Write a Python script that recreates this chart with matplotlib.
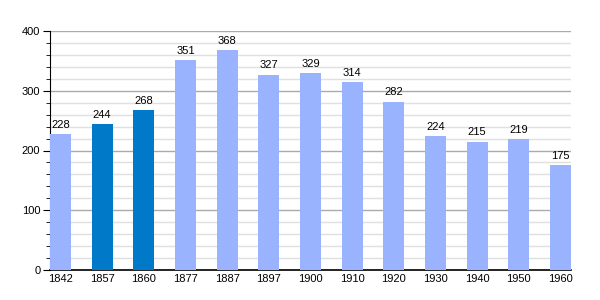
import matplotlib
matplotlib.use("Agg")
import matplotlib.pyplot as plt
from matplotlib.ticker import MultipleLocator

years = ["1842", "1857", "1860", "1877", "1887", "1897", "1900", "1910", "1920", "1930", "1940", "1950", "1960"]
population = [228, 244, 268, 351, 368, 327, 329, 314, 282, 224, 215, 219, 175]
highlight = [False, True, True, False, False, False, False, False, False, False, False, False, False]

light = "#99b3ff"
dark = "#0079c9"

plt.rcParams['font.family'] = ['Liberation Sans', 'DejaVu Sans']

fig = plt.figure(figsize=(6, 3), dpi=100)
ax = fig.add_axes([50/600, 30/300, 521/600, 239/300])

x = list(range(len(years)))
colors = [dark if h else light for h in highlight]
bars = ax.bar(x, population, width=0.5, color=colors, zorder=3)

for xi, v in zip(x, population):
    ax.annotate(str(v), (xi, v), xytext=(0, 3), textcoords="offset points",
                ha="center", va="bottom", fontsize=8, color="#000000", zorder=4)

ax.set_xlim(-0.25, len(years) - 0.75)
ax.set_ylim(0, 400)
ax.set_xticks(x)
ax.set_xticklabels(years)
ax.yaxis.set_major_locator(MultipleLocator(100))
ax.yaxis.set_minor_locator(MultipleLocator(20))
ax.grid(which="major", axis="y", color="#aaaaaa", linewidth=1, zorder=1)
ax.grid(which="minor", axis="y", color="#e0e0e0", linewidth=1, zorder=0)

for s in ["top", "right"]:
    ax.spines[s].set_visible(False)
ax.spines["left"].set_color("black")
ax.spines["bottom"].set_color("black")
ax.spines["bottom"].set_linewidth(1.2)
ax.tick_params(axis="x", length=0, labelsize=8, pad=3)
ax.tick_params(axis="y", which="major", length=5, labelsize=8, pad=2)
ax.tick_params(axis="y", which="minor", length=3)

fig.savefig("out.png", dpi=100)
